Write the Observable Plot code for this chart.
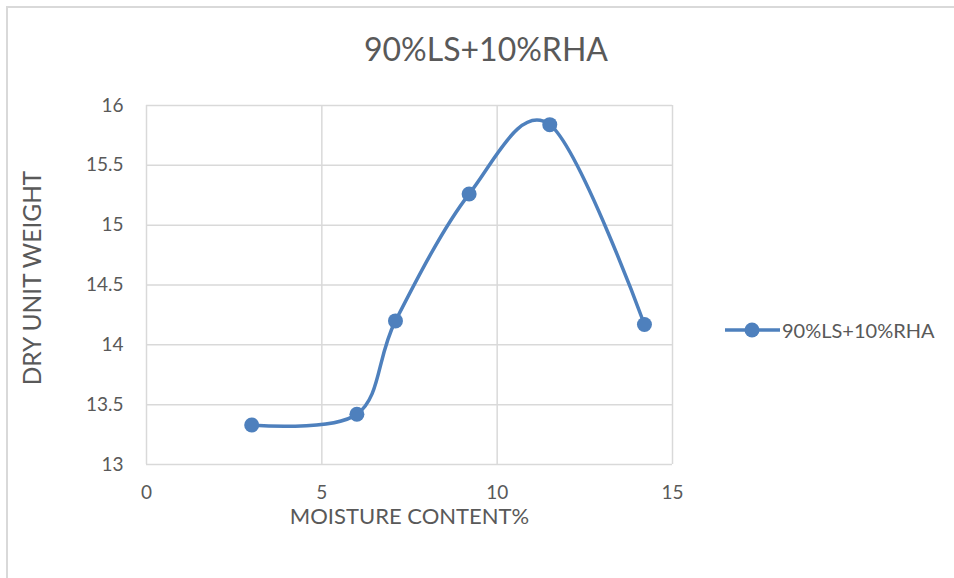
<!DOCTYPE html>
<html>
<head>
<meta charset="utf-8">
<script src="https://cdn.jsdelivr.net/npm/d3@7"></script>
<script src="https://cdn.jsdelivr.net/npm/@observablehq/plot@0.6"></script>
<style>
  html, body { margin: 0; padding: 0; background: #fff; }
  #wrap { position: relative; width: 954px; height: 578px; overflow: hidden; font-family: Lato, "Open Sans", sans-serif; color: #595959; }
  #frame { position: absolute; left: 6px; top: 6px; width: 960px; height: 600px; border-left: 2px solid #d9d9d9; border-top: 2px solid #d9d9d9; box-sizing: border-box; }
  #title { position: absolute; left: 0; width: 972px; top: 29px; text-align: center; font-size: 32px; line-height: 40px; color: #595959; }
  #legend { position: absolute; left: 724px; top: 317px; display: flex; align-items: center; font-size: 20px; color: #595959; }
  #chart { position: absolute; left: 0; top: 0; }
</style>
</head>
<body>
<div id="wrap">
  <div id="frame"></div>
  <div id="chart"></div>
  <div id="title">90%LS+10%RHA</div>
  <div id="legend">
    <svg width="58" height="26"><line x1="1" y1="13" x2="56" y2="13" stroke="#4e80bd" stroke-width="3.5"/><circle cx="28" cy="13" r="7.5" fill="#4e80bd"/></svg>
    <span>90%LS+10%RHA</span>
  </div>
</div>
<script>
const seriesName = "90%LS+10%RHA";
const moisture = [3.0, 6.0, 7.1, 9.2, 11.5, 14.2];
const dryUnitWeight = [13.33, 13.42, 14.2, 15.26, 15.84, 14.17];
const xTicks = [0, 5, 10, 15];
const yTicks = [13, 13.5, 14, 14.5, 15, 15.5, 16];

const data = moisture.map((m, i) => ({x: m, y: dryUnitWeight[i]}));
const color = "#4e80bd";

const plot = Plot.plot({
  width: 954,
  height: 578,
  marginLeft: 146,
  marginRight: 282,
  marginTop: 105,
  marginBottom: 114,
  style: {fontFamily: "Lato, 'Open Sans', sans-serif", fontSize: "19px", color: "#595959", background: "transparent"},
  x: {domain: [0, 15], ticks: xTicks, tickSize: 0, tickPadding: 22, label: null},
  y: {domain: [13, 16], ticks: yTicks, tickSize: 0, tickPadding: 22, label: null},
  marks: [
    Plot.gridX(xTicks, {stroke: "#d9d9d9", strokeOpacity: 1, strokeWidth: 1.5}),
    Plot.gridY(yTicks, {stroke: "#d9d9d9", strokeOpacity: 1, strokeWidth: 1.5}),
    Plot.axisX({ticks: xTicks, tickSize: 0, tickPadding: 21, fill: "#595959"}),
    Plot.axisY({ticks: yTicks, tickSize: 0, tickPadding: 23, fill: "#595959", tickFormat: d => String(d)}),
    Plot.line(data, {x: "x", y: "y", stroke: color, strokeWidth: 3.5, curve: "cardinal"}),
    Plot.dot(data, {x: "x", y: "y", r: 7.5, fill: color, stroke: "none"}),
    Plot.text(["MOISTURE CONTENT%"], {frameAnchor: "bottom", dy: 52, lineAnchor: "middle", text: d => d, fontSize: 22, fill: "#595959"}),
    Plot.text(["DRY UNIT WEIGHT"], {frameAnchor: "left", dx: -113, dy: -7, rotate: -90, textAnchor: "middle", text: d => d, fontSize: 24.5, fill: "#595959"})
  ]
});
document.getElementById("chart").appendChild(plot);
</script>
</body>
</html>
